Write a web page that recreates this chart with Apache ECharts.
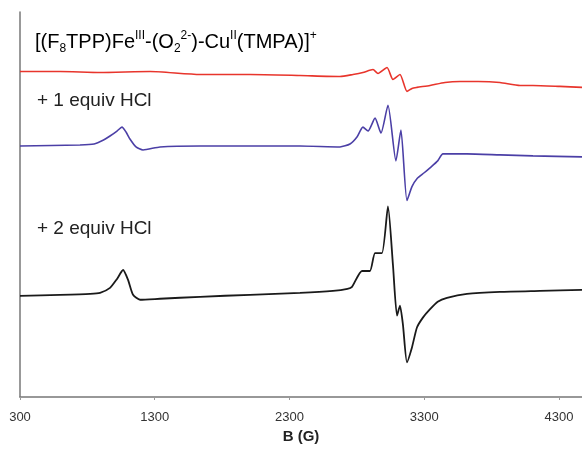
<!DOCTYPE html>
<html>
<head>
<meta charset="utf-8">
<script src="https://cdn.jsdelivr.net/npm/echarts@6/dist/echarts.min.js"></script>
<style>
html,body{margin:0;padding:0;background:#fff;}
#chart{width:582px;height:449px;}
</style>
</head>
<body>
<div id="chart"></div>
<script>
// Magnetic field (G) and offset EPR signal (a.u.) for each trace
var fieldRed = [300,597,894,1265,1636,2007,2378,2675,2771,2845,2920,2957,3024,3068,3120,3172,3209,3246,3343,3454,3565,3700,3862,4011,4107,4307,4471];
var signalRed = [328,328,327,328,325,325,324,323,325,327,330,326,332,320,325,308,311,312,314,317,318,318,317,314,314,313,312];

var fieldBlue = [300,745,850,920,968,1020,1057,1087,1116,1161,1213,1339,1636,2378,2675,2749,2801,2845,2883,2935,2979,3031,3090,3127,3172,3209,3246,3300,3343,3400,3439,3617,3862,4107,4471];
var signalBlue = [253,254,255,259,263,268,272,267,260,252,249,252,253,253,252,255,262,272,268,281,266,294,238,269,198,212,220,226,231,238,245,245,244,243,242];

var fieldBlack = [300,597,820,894,968,1020,1065,1102,1139,1191,1339,1636,2007,2378,2623,2730,2764,2838,2897,2935,2986,3031,3068,3098,3120,3142,3172,3209,3246,3290,3340,3400,3469,3617,3862,4159,4471];
var signalBlack = [102,103,104,105,110,119,128,118,103,98,99,101,103,105,107,109,111,127,127,145,145,192,133,82,92,73,35,50,70,80,88,96,100,104,106,107,108];

var xTicks = [300,1300,2300,3300,4300];
var xName = 'B (G)';
var label1 = '+ 1 equiv HCl';
var label2 = '+ 2 equiv HCl';

function pairs(xs, ys){ return xs.map(function(x,i){ return [x, ys[i]]; }); }

var chart = echarts.init(document.getElementById('chart'));
var txtColor = '#222';
var fam = 'Liberation Sans, Arial, sans-serif';
var main = {fontSize:20, fontFamily:fam, color:txtColor, lineHeight:26, verticalAlign:'middle'};
var sup = {fontSize:12, fontFamily:fam, color:txtColor, lineHeight:26, verticalAlign:'top', padding:[1,0,0,0]};
var sub = {fontSize:12, fontFamily:fam, color:txtColor, lineHeight:26, verticalAlign:'bottom'};

chart.setOption({
  animation:false,
  grid:{left:20, right:0, top:12, bottom:49},
  xAxis:{
    type:'value', min:300, max:4471, interval:1000,
    name:xName, nameLocation:'middle', nameGap:32,
    nameTextStyle:{fontSize:15, fontWeight:'bold', color:'#222', fontFamily:fam},
    axisLine:{show:true, lineStyle:{color:'#777', width:1.5}},
    axisTick:{show:true, length:3, lineStyle:{color:'#999'}},
    axisLabel:{fontSize:13, color:'#333', margin:14, fontFamily:fam, showMaxLabel:false,
      formatter:function(v){ return xTicks.indexOf(v) >= 0 ? String(v) : ''; }},
    splitLine:{show:false}
  },
  yAxis:{
    type:'value', min:0, max:388,
    axisLine:{show:true, lineStyle:{color:'#777', width:1.5}},
    axisTick:{show:false}, axisLabel:{show:false}, splitLine:{show:false}
  },
  series:[
    {type:'line', data:pairs(fieldRed, signalRed), symbol:'none', smooth:0.2, lineStyle:{color:'#e8352c', width:1.6}},
    {type:'line', data:pairs(fieldBlue, signalBlue), symbol:'none', smooth:0.2, lineStyle:{color:'#4b3fa6', width:1.6}},
    {type:'line', data:pairs(fieldBlack, signalBlack), symbol:'none', smooth:0.2, lineStyle:{color:'#1a1a1a', width:1.8}}
  ],
  graphic:[
    {type:'text', left:35, top:29, style:{
      text:'{m|[(F}{b|8}{m|TPP)Fe}{p|III}{m|-(O}{b|2}{p|2-}{m|)-Cu}{p|II}{m|(TMPA)]}{p|+}',
      rich:{m:main, p:sup, b:sub}}},
    {type:'text', left:37, top:91, style:{text:label1, font:'19px ' + fam, fill:txtColor}},
    {type:'text', left:37, top:219, style:{text:label2, font:'19px ' + fam, fill:txtColor}}
  ]
});
</script>
</body>
</html>
